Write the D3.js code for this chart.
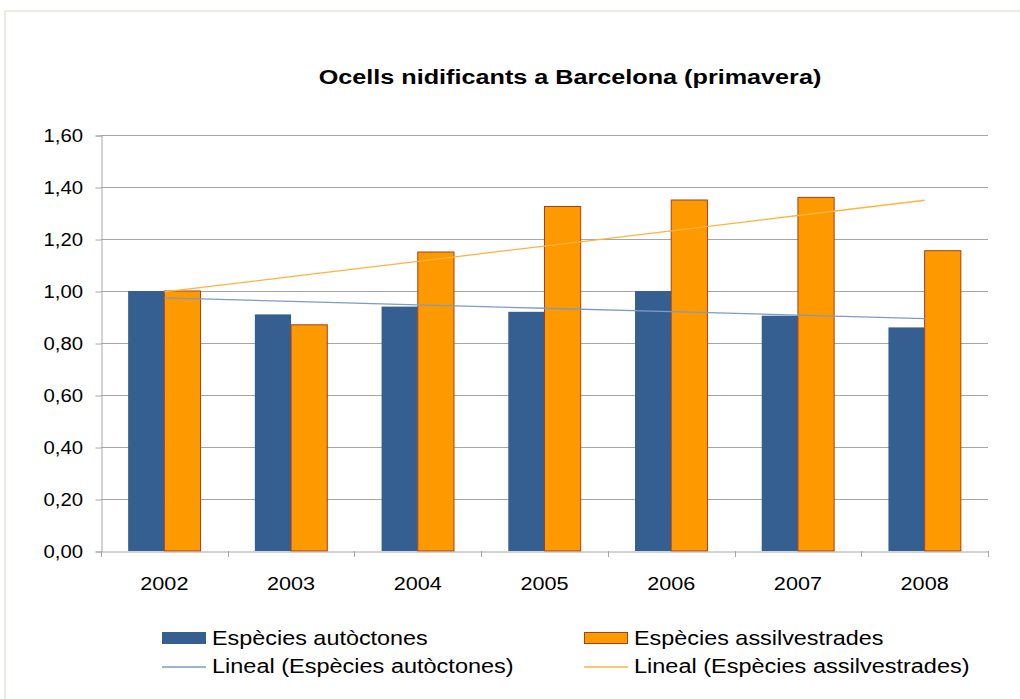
<!DOCTYPE html>
<html>
<head>
<meta charset="utf-8">
<script src="https://cdnjs.cloudflare.com/ajax/libs/d3/7.8.5/d3.min.js"></script>
<style>
  body { margin: 0; background: #fff; }
  svg { display: block; font-family: "Liberation Sans", Arial, sans-serif; }
</style>
</head>
<body>
<script>
var years = ["2002", "2003", "2004", "2005", "2006", "2007", "2008"];
var autoctones = [1.00, 0.91, 0.94, 0.92, 1.00, 0.905, 0.86];
var assilvestrades = [1.00, 0.87, 1.15, 1.325, 1.35, 1.36, 1.155];
var yTicks = [0, 0.2, 0.4, 0.6, 0.8, 1.0, 1.2, 1.4, 1.6];
var seriesNames = ["Espècies autòctones", "Espècies assilvestrades"];
var trendNames = ["Lineal (Espècies autòctones)", "Lineal (Espècies assilvestrades)"];
var chartTitle = "Ocells nidificants a Barcelona (primavera)";

var chart = (function(){
  var svg,
      w = 1020,
      h = 699,
      left = 101,
      right = 988,
      top = 135,
      bottom = 551,
      blue = "#365f91",
      orange = "#ff9900",
      orangeEdge = "#a3401f",
      blueTrend = "#7d9bc6",
      orangeTrend = "#ffb340",
      gridColor = "#a6a6a6";

  var x = d3.scaleBand().domain(years).range([left, right]).paddingInner(0).paddingOuter(0);
  var y = d3.scaleLinear().domain([0, 1.6]).range([bottom, top]);

  // the source picture is a bit wider than tall, so text gets a horizontal stretch
  function stretchedText(g, tx, ty, str, size, sx, anchor, weight){
    return g.append("text")
      .attr("transform", "translate(" + tx + "," + ty + ") scale(" + sx + ",1)")
      .attr("text-anchor", anchor)
      .attr("font-size", size)
      .attr("font-weight", weight || "normal")
      .attr("fill", "#000")
      .text(str);
  }

  // least squares line through the points, x = 1..n like the spreadsheet does
  function trend(vals){
    var n = vals.length, mx = (n + 1) / 2, my = d3.mean(vals), sxy = 0, sxx = 0;
    vals.forEach(function(v, i){
      sxy += (i + 1 - mx) * (v - my);
      sxx += (i + 1 - mx) * (i + 1 - mx);
    });
    var b = sxy / sxx;
    return vals.map(function(v, i){ return my + b * (i + 1 - mx); });
  }

  function init(){
    svg = d3.select("body").append("svg").attr("width", w).attr("height", h);

    svg.append("rect")
      .attr("x", 5).attr("y", 11).attr("width", w + 10).attr("height", h + 10)
      .attr("fill", "#fff").attr("stroke", "#ecebdc").attr("stroke-width", 2);

    stretchedText(svg, 570, 84, chartTitle, 21, 1.2, "middle", "bold");

    // grid
    svg.append("g").selectAll("line")
      .data(yTicks.slice(1))
      .enter().append("line")
      .attr("x1", left).attr("x2", right)
      .attr("y1", function(d){ return Math.round(y(d)) + 0.5; })
      .attr("y2", function(d){ return Math.round(y(d)) + 0.5; })
      .attr("stroke", gridColor).attr("stroke-width", 1);

    // y axis
    var yAxis = svg.append("g")
      .attr("transform", "translate(" + (left + 0.5) + ",0.5)")
      .call(d3.axisLeft(y).tickValues(yTicks).tickSize(6).tickFormat(""));
    yAxis.selectAll("line, path").attr("stroke", gridColor);
    yTicks.forEach(function(t){
      stretchedText(svg, 83, y(t) + 6.5, d3.format(".2f")(t).replace(".", ","), 18, 1.13, "end");
    });

    // bars
    var bw = x.bandwidth() / 3.5;
    var bars = svg.append("g");
    bars.selectAll("rect.aut")
      .data(autoctones)
      .enter().append("rect")
      .attr("class", "aut")
      .attr("x", function(d, i){ return x(years[i]) + x.bandwidth() / 2 - bw; })
      .attr("y", function(d){ return y(d); })
      .attr("width", bw)
      .attr("height", function(d){ return y(0) - y(d); })
      .attr("fill", blue);
    bars.selectAll("rect.ass")
      .data(assilvestrades)
      .enter().append("rect")
      .attr("class", "ass")
      .attr("x", function(d, i){ return x(years[i]) + x.bandwidth() / 2; })
      .attr("y", function(d){ return y(d); })
      .attr("width", bw)
      .attr("height", function(d){ return y(0) - y(d); })
      .attr("fill", orange)
      .attr("stroke", orangeEdge)
      .attr("stroke-width", 1);

    // x axis
    var xAxis = svg.append("g")
      .attr("transform", "translate(0," + (Math.round(bottom) + 0.5) + ")")
      .call(d3.axisBottom(x).tickSize(0).tickFormat(""));
    xAxis.selectAll("path").attr("stroke", gridColor);
    xAxis.selectAll(".tick").remove();
    svg.append("g").selectAll("line")
      .data(years.concat(["end"]))
      .enter().append("line")
      .attr("x1", function(d, i){ return Math.round(left + i * x.step()) + 0.5; })
      .attr("x2", function(d, i){ return Math.round(left + i * x.step()) + 0.5; })
      .attr("y1", bottom).attr("y2", bottom + 6)
      .attr("stroke", gridColor);
    years.forEach(function(yr){
      stretchedText(svg, x(yr) + x.bandwidth() / 2, 590, yr, 18.5, 1.17, "middle");
    });

    // trend lines
    var line = d3.line()
      .x(function(d, i){ return x(years[i]) + x.bandwidth() / 2; })
      .y(function(d){ return y(d); });
    svg.append("path").datum(trend(autoctones))
      .attr("d", line).attr("fill", "none")
      .attr("stroke", blueTrend).attr("stroke-width", 1.3);
    svg.append("path").datum(trend(assilvestrades))
      .attr("d", line).attr("fill", "none")
      .attr("stroke", orangeTrend).attr("stroke-width", 1.3);

    // legend
    var lg = svg.append("g");
    var cols = [162, 584];
    lg.append("rect").attr("x", cols[0]).attr("y", 632).attr("width", 44).attr("height", 12).attr("fill", blue);
    lg.append("rect").attr("x", cols[1] + 0.5).attr("y", 632.5).attr("width", 43).attr("height", 11)
      .attr("fill", orange).attr("stroke", orangeEdge);
    lg.append("line").attr("x1", cols[0]).attr("x2", cols[0] + 44).attr("y1", 667).attr("y2", 667)
      .attr("stroke", blueTrend).attr("stroke-width", 1.5);
    lg.append("line").attr("x1", cols[1]).attr("x2", cols[1] + 44).attr("y1", 667).attr("y2", 667)
      .attr("stroke", orangeTrend).attr("stroke-width", 1.5);
    seriesNames.forEach(function(s, i){
      stretchedText(lg, cols[i] + 50, 645, s, 20, 1.17, "start");
    });
    trendNames.forEach(function(s, i){
      stretchedText(lg, cols[i] + 50, 673, s, 20, 1.175, "start");
    });
  }

  return init;
})();

chart();
</script>
</body>
</html>
